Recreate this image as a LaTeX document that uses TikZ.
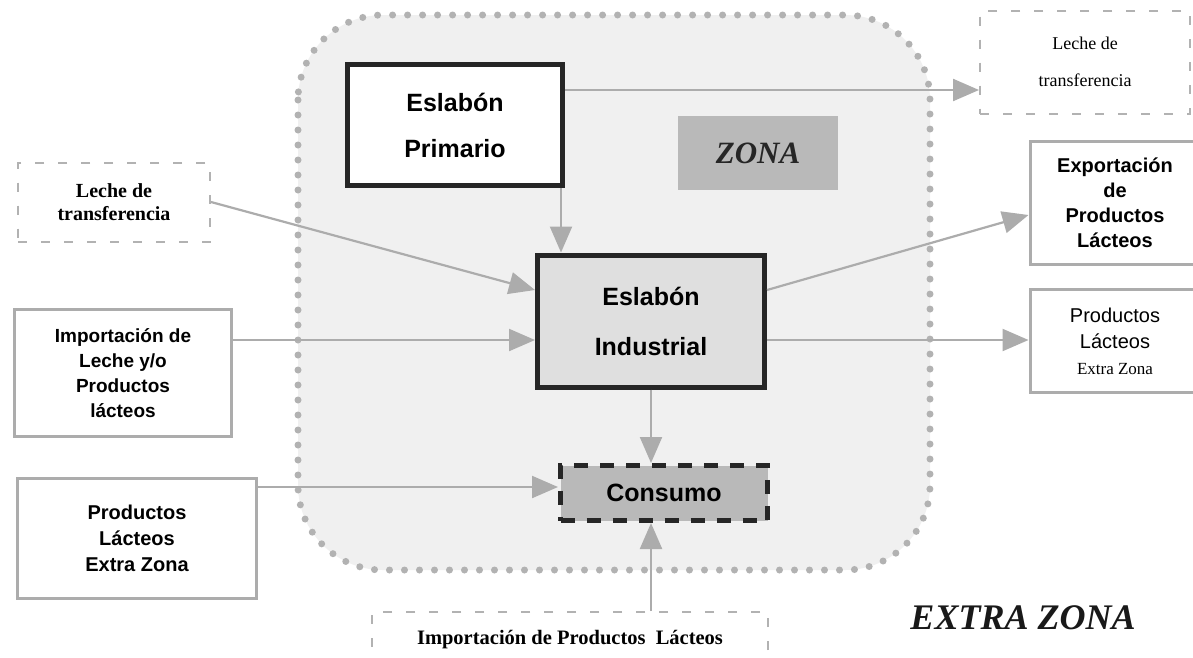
\documentclass[tikz,border=0pt]{standalone}
\usepackage{fontspec}
\setmainfont{Liberation Sans}
\newfontfamily\tnr{Liberation Serif}
\usetikzlibrary{arrows.meta}
\begin{document}
\begin{tikzpicture}[x=1pt,y=-1pt,
  arr/.style={draw=gray!65, line width=2.2pt, -{Triangle[length=26pt,width=22pt]}},
  heavybox/.style={draw=black!85, line width=5pt, align=center, inner sep=0pt},
  greybox/.style={draw=gray!65, line width=3pt, align=center, inner sep=0pt, fill=white},
  dashbox/.style={draw=gray!60, line width=2pt, dash pattern=on 9pt off 14pt, align=center, inner sep=0pt, fill=white},
  zonebg/.style={draw=gray!60, fill=gray!12, line width=7pt, line cap=round, dash pattern=on 0pt off 15pt, rounded corners=85pt}
]
\clip (0,0) rectangle (1193,657);
\fill[white] (0,0) rectangle (1193,657);

% zone
\draw[zonebg] (298,15) rectangle (930,570);

% zone label
\node[fill=gray!55, minimum width=160pt, minimum height=74pt, inner sep=0pt,
      text=black!85, font=\tnr\bfseries\itshape\fontsize{31}{31}\selectfont] (zona) at (758,153) {ZONA};

% inner boxes
\node[heavybox, fill=white, minimum width=215pt, minimum height=121pt,
      font=\bfseries\fontsize{25}{46}\selectfont] (prim) at (455,125) {Eslabón\\Primario};
\node[heavybox, fill=gray!25, minimum width=227pt, minimum height=132pt,
      font=\bfseries\fontsize{25}{50}\selectfont] (ind) at (651,321) {Eslabón\\Industrial};
\node[draw=black!85, line width=5pt, dash pattern=on 14pt off 12pt, fill=gray!55,
      minimum width=207pt, minimum height=55pt, inner sep=0pt,
      font=\bfseries\fontsize{25}{30}\selectfont] (cons) at (664,493) {Consumo};

% left boxes
\node[dashbox, minimum width=192pt, minimum height=79pt,
      font=\tnr\bfseries\fontsize{20}{23}\selectfont] (lleche) at (114,202) {Leche de\\transferencia};
\node[greybox, minimum width=217pt, minimum height=127pt,
      font=\bfseries\fontsize{19}{25}\selectfont] (imp) at (123,373) {Importación de\\Leche y/o\\Productos\\lácteos};
\node[greybox, minimum width=239pt, minimum height=120pt,
      font=\bfseries\fontsize{20}{26}\selectfont] (lprod) at (137,538) {Productos\\Lácteos\\Extra Zona};

% bottom box
\node[dashbox, minimum width=396pt, minimum height=56pt,
      font=\tnr\bfseries\fontsize{20.5}{22}\selectfont] (bimp) at (570,640) {Importación de Productos\ \ Lácteos};

% right boxes
\node[dashbox, minimum width=210pt, minimum height=103pt,
      font=\tnr\fontsize{18}{37}\selectfont] (rleche) at (1085,62) {Leche de\\transferencia};
\node[greybox, minimum width=170pt, minimum height=123pt,
      font=\bfseries\fontsize{20}{25}\selectfont] (exp) at (1115,203) {Exportación\\de\\Productos\\Lácteos};
\node[greybox, minimum width=170pt, minimum height=103pt,
      font=\fontsize{20}{26}\selectfont] (rprod) at (1115,341) {Productos\\Lácteos\\{\tnr\fontsize{17}{23}\selectfont Extra Zona}};

% extra zona label
\node[font=\tnr\bfseries\itshape\fontsize{36}{36}\selectfont, text=black!90] (extra) at (1023,618) {EXTRA ZONA};

% connectors
\coordinate (pa) at ([yshift=35pt]prim.east);
\draw[arr] (pa) -- (pa -| rleche.west);
\coordinate (pb) at ([xshift=-4pt]prim.south east);
\draw[arr] (pb) -- (pb |- ind.north);
\draw[arr] (lleche.east) -- ([yshift=31pt]ind.west);
\coordinate (pc) at ([yshift=-19pt]ind.west);
\draw[arr] (pc -| imp.east) -- (pc);
\draw[arr] ([yshift=31pt]ind.east) -- ([yshift=-12pt]exp.west);
\coordinate (pd) at ([yshift=-19pt]ind.east);
\draw[arr] (pd) -- (pd -| rprod.west);
\draw[arr] (ind.south) -- (ind.south |- cons.north);
\coordinate (pe) at ([yshift=6pt]cons.west);
\draw[arr] (pe -| lprod.east) -- (pe);
\draw[arr] (ind.south |- bimp.north) -- (ind.south |- cons.south);
\end{tikzpicture}
\end{document}
